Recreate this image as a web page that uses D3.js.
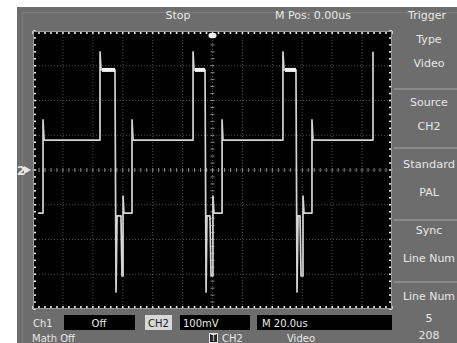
<!DOCTYPE html>
<html>
<head>
<meta charset="utf-8">
<script src="https://cdn.jsdelivr.net/npm/d3@7"></script>
<style>
  body { margin: 0; background: #fff; }
  svg { display: block; }
  text { font-family: "DejaVu Sans", sans-serif; fill: #e8e8e8; }
</style>
</head>
<body>
<div id="svganchor"></div>
<script>
let width = 457, height = 343;

// screen area of the scope (graticule)
let margin = ({top: 31, right: 65, bottom: 34, left: 33});

// trace: time (us) and voltage (mV)
let traceTime = [-116.7, -113.3, -113.3, -112.6, -75.2, -75.2, -74.5, -65.2, -64.5, -63.8, -61.2, -60.5,
    -59.8, -59.8, -59.2, -53.8, -53.8, -53.1,
    -13.0, -13.0, -12.4, -5.0, -4.3, -3.7, -1.7, -1.0, 0.3, 0.3, 1.0, 6.4, 6.4, 7.0,
    47.1, 47.1, 47.8, 55.8, 56.5, 57.2, 58.5, 59.2, 60.5, 60.5, 61.2, 66.5, 66.5, 67.2,
    107.3, 107.3];
let traceMv = [-124, -124, 144, 86, 86, 340, 288, 288, -351, -132, -132, -305,
    -305, -75, -124, -124, 144, 86,
    86, 340, 288, 288, -351, -132, -132, -305, -305, -75, -124, -124, 144, 86,
    86, 340, 288, 288, -351, -132, -132, -305, -305, -75, -124, -124, 144, 86,
    86, 340];

// bright flat tops of the pulses
let plateauStart = [-74.5, -12.4, 47.8];
let plateauEnd = [-65.2, -5.0, 55.8];
let plateauMv = 288;

let timePerDiv = 20, mvPerDiv = 100;
let xDivs = 12, yDivs = 8;

let topLabels = ["Stop", "M Pos: 0.00us", "Trigger"];
let menuLabels = [["Type", "Video"], ["Source", "CH2"], ["Standard", "PAL"], ["Sync", "Line Num"], ["Line Num", "5", "208"]];
let statusRow1 = ["Ch1", "Off", "CH2", "100mV", "M 20.0us"];
let statusRow2 = ["Math Off", "CH2", "Video"];

let xScale = d3.scaleLinear()
    .domain([-timePerDiv * xDivs / 2, timePerDiv * xDivs / 2])
    .range([margin.left, width - margin.right]);

let yScale = d3.scaleLinear()
    .domain([-mvPerDiv * yDivs / 2, mvPerDiv * yDivs / 2])
    .range([height - margin.bottom, margin.top]);

let svg = d3.select("#svganchor")
    .append("svg")
    .attr("width", width)
    .attr("height", height);

// instrument body
svg.append("rect")
    .attr("x", 17).attr("y", 7)
    .attr("width", width - 17).attr("height", height - 7)
    .attr("fill", "#6d6d6d");

svg.append("rect")
    .attr("x", 22.5).attr("y", 12.5)
    .attr("width", width - 20).attr("height", height)
    .attr("fill", "none")
    .attr("stroke", "#7e7e7e");

// graticule
let x0 = xScale.range()[0], x1 = xScale.range()[1];
let y0 = yScale.range()[1], y1 = yScale.range()[0];

svg.append("rect")
    .attr("x", x0).attr("y", y0)
    .attr("width", x1 - x0).attr("height", y1 - y0)
    .attr("fill", "#000");

let gGrid = svg.append("g");

let majorX = d3.range(-6, 7).map(function(d) { return d * timePerDiv; });
let majorY = d3.range(-4, 5).map(function(d) { return d * mvPerDiv; });
let minorX = d3.range(-30, 31).map(function(d) { return d * timePerDiv / 5; });
let minorY = d3.range(-20, 21).map(function(d) { return d * mvPerDiv / 5; });

gGrid.selectAll(".vgrid")
    .data(majorX.filter(function(d) { return Math.abs(d) < 120; }))
    .enter().append("line")
    .attr("x1", function(d) { return xScale(d); })
    .attr("x2", function(d) { return xScale(d); })
    .attr("y1", y0).attr("y2", y1)
    .attr("stroke", "#505050")
    .attr("stroke-dasharray", "1,2");

gGrid.selectAll(".hgrid")
    .data(majorY.filter(function(d) { return Math.abs(d) < 400; }))
    .enter().append("line")
    .attr("y1", function(d) { return yScale(d); })
    .attr("y2", function(d) { return yScale(d); })
    .attr("x1", x0).attr("x2", x1)
    .attr("stroke", "#505050")
    .attr("stroke-dasharray", "1,2");

// center cross with minor ticks
gGrid.selectAll(".cx")
    .data(minorX)
    .enter().append("line")
    .attr("x1", function(d) { return xScale(d); })
    .attr("x2", function(d) { return xScale(d); })
    .attr("y1", yScale(0) - 2).attr("y2", yScale(0) + 2)
    .attr("stroke", "#8a8a8a");

gGrid.selectAll(".cy")
    .data(minorY)
    .enter().append("line")
    .attr("y1", function(d) { return yScale(d); })
    .attr("y2", function(d) { return yScale(d); })
    .attr("x1", xScale(0) - 2).attr("x2", xScale(0) + 2)
    .attr("stroke", "#8a8a8a");

// frame ticks
let frame = gGrid.append("g").attr("stroke", "#e8e8e8").attr("stroke-width", 1.6);
frame.selectAll(".ft").data(minorX).enter().append("line")
    .attr("x1", function(d) { return xScale(d); }).attr("x2", function(d) { return xScale(d); })
    .attr("y1", y0).attr("y2", y0 + 3);
frame.selectAll(".fb").data(minorX).enter().append("line")
    .attr("x1", function(d) { return xScale(d); }).attr("x2", function(d) { return xScale(d); })
    .attr("y1", y1).attr("y2", y1 - 3);
frame.selectAll(".fl").data(minorY).enter().append("line")
    .attr("y1", function(d) { return yScale(d); }).attr("y2", function(d) { return yScale(d); })
    .attr("x1", x0).attr("x2", x0 + 3);
frame.selectAll(".fr").data(minorY).enter().append("line")
    .attr("y1", function(d) { return yScale(d); }).attr("y2", function(d) { return yScale(d); })
    .attr("x1", x1).attr("x2", x1 - 3);

svg.append("rect")
    .attr("x", x0 + 0.5).attr("y", y0 + 0.5)
    .attr("width", x1 - x0 - 1).attr("height", y1 - y0 - 1)
    .attr("fill", "none")
    .attr("stroke", "#9a9a9a");

// trace
let traceData = traceTime.map(function(t, i) { return [t, traceMv[i]]; });

let line = d3.line()
    .x(function(d) { return xScale(d[0]); })
    .y(function(d) { return yScale(d[1]); });

svg.append("path")
    .datum(traceData)
    .attr("d", line)
    .attr("fill", "none")
    .attr("stroke", "#d4d4d4")
    .attr("stroke-width", 1.7)
    .attr("stroke-linejoin", "round");

svg.selectAll(".plateau")
    .data(plateauStart)
    .enter().append("line")
    .attr("x1", function(d) { return xScale(d) + 1; })
    .attr("x2", function(d, i) { return xScale(plateauEnd[i]); })
    .attr("y1", yScale(plateauMv))
    .attr("y2", yScale(plateauMv))
    .attr("stroke", "#f4f4f4")
    .attr("stroke-width", 4);

// trigger position marker and channel marker
svg.append("rect")
    .attr("x", xScale(0) - 4).attr("y", y0 + 2)
    .attr("width", 8).attr("height", 5)
    .attr("rx", 2)
    .attr("fill", "#f2f2f2");

svg.append("text")
    .attr("x", 17).attr("y", yScale(0) + 5)
    .attr("font-size", "12px")
    .attr("font-weight", "bold")
    .text("2");
svg.append("path")
    .attr("d", "M24," + (yScale(0) - 4) + "L31," + yScale(0) + "L24," + (yScale(0) + 4) + "Z")
    .attr("fill", "#e8e8e8");

// top bar
let topX = [178, 313, 427];
svg.selectAll(".topLabel")
    .data(topLabels)
    .enter().append("text")
    .attr("x", function(d, i) { return topX[i]; })
    .attr("y", 19)
    .attr("text-anchor", "middle")
    .attr("font-size", "11px")
    .text(function(d) { return d; });

// right menu
let menuTop = [28, 89, 148, 220, 282];
let menuG = svg.append("g");
menuG.selectAll(".sep")
    .data(menuTop.slice(1))
    .enter().append("line")
    .attr("x1", 394).attr("x2", width)
    .attr("y1", function(d) { return d; })
    .attr("y2", function(d) { return d; })
    .attr("stroke", "#959595")
    .attr("stroke-width", 1.5);

let menuRowY = [[43, 67], [106, 130], [168, 196], [234, 262], [300, 322, 339]];
menuLabels.forEach(function(items, i) {
    items.forEach(function(label, j) {
        let t = menuG.append("text")
            .attr("x", 429)
            .attr("y", menuRowY[i][j])
            .attr("text-anchor", "middle")
            .attr("font-size", "11px")
            .text(label);
        if (label.length > 7) {
            t.attr("textLength", 52).attr("lengthAdjust", "spacingAndGlyphs");
        }
    });
});

// status rows
let boxes = [[64, 135, "#000"], [145, 172, "#d8d8d8"], [180, 250, "#000"], [257, 392, "#000"]];
svg.selectAll(".box")
    .data(boxes)
    .enter().append("rect")
    .attr("x", function(d) { return d[0]; })
    .attr("y", 315)
    .attr("width", function(d) { return d[1] - d[0]; })
    .attr("height", 15)
    .attr("fill", function(d) { return d[2]; });

let row1X = [33, 99, 148, 183, 262];
let row1Anchor = ["start", "middle", "start", "start", "start"];
svg.selectAll(".row1")
    .data(statusRow1)
    .enter().append("text")
    .attr("x", function(d, i) { return row1X[i]; })
    .attr("y", 327)
    .attr("text-anchor", function(d, i) { return row1Anchor[i]; })
    .attr("font-size", "10px")
    .style("fill", function(d, i) { return i === 2 ? "#222" : "#e8e8e8"; })
    .text(function(d) { return d; });

let row2X = [32, 222, 287];
svg.selectAll(".row2")
    .data(statusRow2)
    .enter().append("text")
    .attr("x", function(d, i) { return row2X[i]; })
    .attr("y", 342)
    .attr("font-size", "10px")
    .text(function(d) { return d; });

svg.append("rect")
    .attr("x", 209.5).attr("y", 333.5)
    .attr("width", 8).attr("height", 9)
    .attr("fill", "#222")
    .attr("stroke", "#e8e8e8");
svg.append("text")
    .attr("x", 213.5).attr("y", 341)
    .attr("text-anchor", "middle")
    .attr("font-size", "8px")
    .text("T");
</script>
</body>
</html>
